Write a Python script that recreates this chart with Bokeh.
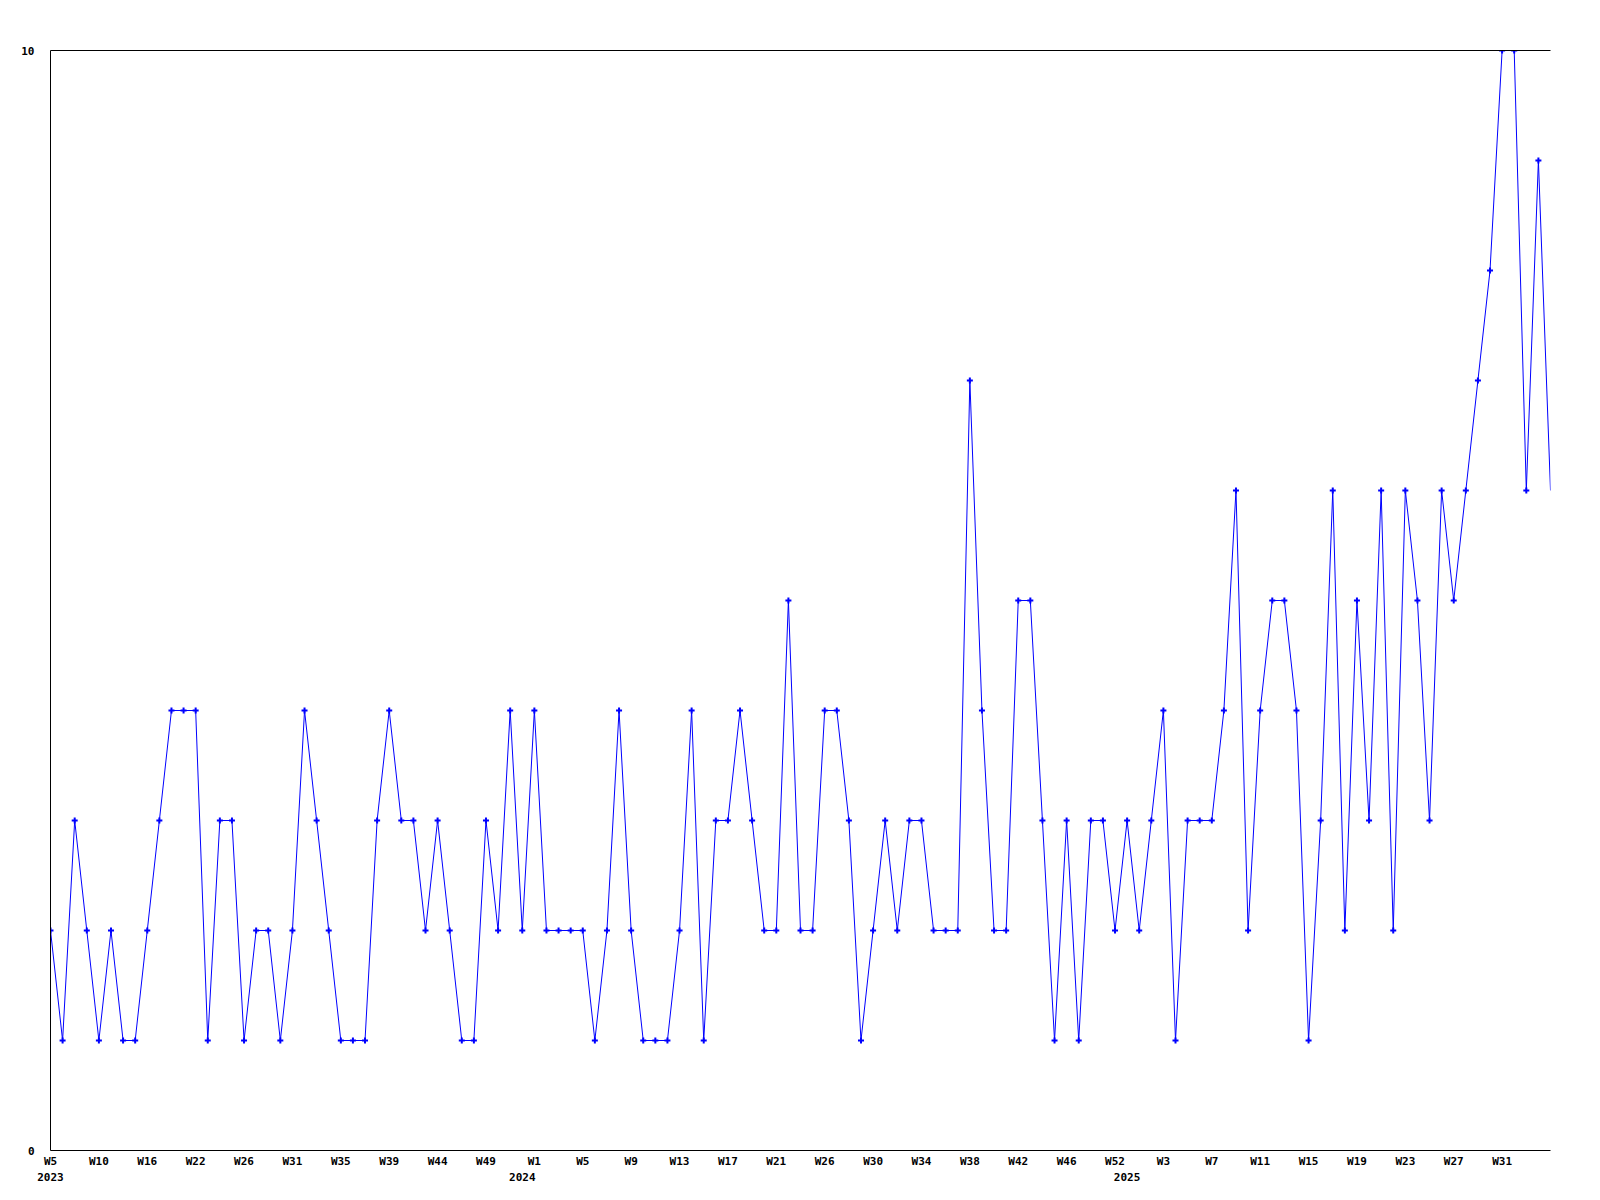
from bokeh.plotting import figure
from bokeh.models import Range1d, LinearAxis, FixedTicker
from bokeh.embed import file_html
from bokeh.resources import INLINE

# Weekly values (one point per reported week)
values = [
    2, 1, 3, 2, 1, 2, 1, 1, 2, 3,
    4, 4, 4, 1, 3, 3, 1, 2, 2, 1,
    2, 4, 3, 2, 1, 1, 1, 3, 4, 3,
    3, 2, 3, 2, 1, 1, 3, 2, 4, 2,
    4, 2, 2, 2, 2, 1, 2, 4, 2, 1,
    1, 1, 2, 4, 1, 3, 3, 4, 3, 2,
    2, 5, 2, 2, 4, 4, 3, 1, 2, 3,
    2, 3, 3, 2, 2, 2, 7, 4, 2, 2,
    5, 5, 3, 1, 3, 1, 3, 3, 2, 3,
    2, 3, 4, 1, 3, 3, 3, 4, 6, 2,
    4, 5, 5, 4, 1, 3, 6, 2, 5, 3,
    6, 2, 6, 5, 3, 6, 5, 6, 7, 8,
    10, 10, 6, 9, 6,
]

# Week tick labels, one every 4 points
week_labels = [
    "W5", "W10", "W16", "W22", "W26", "W31", "W35", "W39", "W44", "W49",
    "W1", "W5", "W9", "W13", "W17", "W21", "W26", "W30", "W34", "W38",
    "W42", "W46", "W52", "W3", "W7", "W11", "W15", "W19", "W23", "W27", "W31",
]
tick_step = 4

# Year labels and the point index where each year starts
year_labels = ["2023", "2024", "2025"]
year_index = [0, 39, 89]

y_ticks = [0, 10]

n = len(values)
xs = list(range(n))
tick_idx = [i * tick_step for i in range(len(week_labels))]

FONT = "DejaVu Sans Mono"
FSIZE = "11px"

p = figure(
    frame_width=1500, frame_height=1100,
    x_range=Range1d(0, n - 1), y_range=Range1d(0, 10),
    output_backend="svg", toolbar_location=None,
    x_axis_location=None, y_axis_location=None,
    min_border_left=50, min_border_right=34,
    min_border_top=50, min_border_bottom=40,
)
p.outline_line_color = None
p.xgrid.visible = False
p.ygrid.visible = False
p.background_fill_color = "white"
p.border_fill_color = "white"


def style_axis(ax):
    ax.major_tick_in = 0
    ax.major_tick_out = 0
    ax.minor_tick_in = 0
    ax.minor_tick_out = 0
    ax.major_label_text_font = FONT
    ax.major_label_text_font_size = FSIZE
    ax.major_label_text_font_style = "bold"
    ax.major_label_text_color = "black"
    ax.axis_line_color = "black"
    ax.axis_line_width = 1


# bottom week axis
xax = LinearAxis(ticker=FixedTicker(ticks=tick_idx))
xax.major_label_overrides = {t: lab for t, lab in zip(tick_idx, week_labels)}
style_axis(xax)
xax.major_label_standoff = 4
p.add_layout(xax, "below")

# bottom year axis
yrax = LinearAxis(ticker=FixedTicker(ticks=year_index))
yrax.major_label_overrides = {t: lab for t, lab in zip(year_index, year_labels)}
style_axis(yrax)
yrax.axis_line_color = None
yrax.major_label_standoff = 2
p.add_layout(yrax, "below")

# left value axis
yax = LinearAxis(ticker=FixedTicker(ticks=y_ticks))
style_axis(yax)
yax.major_label_standoff = 16
p.add_layout(yax, "left")

# top border line
tax = LinearAxis(ticker=FixedTicker(ticks=[]))
style_axis(tax)
tax.major_label_text_font_size = "0px"
p.add_layout(tax, "above")

p.line(xs, values, line_color="#0000ff", line_width=1)
p.scatter(xs[:-1], values[:-1], marker="cross", size=6, line_width=2,
          line_color="#0000ff")

open("out.html", "w").write(file_html(p, INLINE))
